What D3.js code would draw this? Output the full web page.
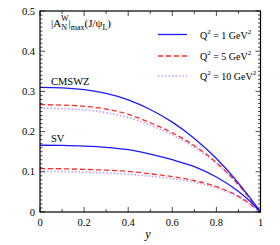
<!DOCTYPE html>
<html><head><meta charset="utf-8">
<script src="https://cdn.jsdelivr.net/npm/d3@7"></script>
<style>body{margin:0;background:#fff}svg{display:block}text{font-family:"Liberation Serif","DejaVu Serif",serif;fill:#000}</style>
</head><body><svg id="c" width="280" height="245"></svg>
<script>
const xs = [0, 0.1, 0.2, 0.3, 0.4, 0.5, 0.6, 0.7, 0.8, 0.9, 0.95, 1];
const cmswzQ1  = [0.310, 0.309, 0.3045, 0.295, 0.279, 0.255, 0.2235, 0.183, 0.133, 0.072, 0.037, 0];
const cmswzQ5  = [0.267, 0.266, 0.263, 0.256, 0.243, 0.222, 0.197, 0.165, 0.123, 0.068, 0.035, 0];
const cmswzQ10 = [0.258, 0.257, 0.254, 0.247, 0.235, 0.216, 0.192, 0.161, 0.121, 0.067, 0.034, 0];
const svQ1  = [0.166, 0.1655, 0.164, 0.161, 0.155, 0.144, 0.130, 0.113, 0.087, 0.051, 0.028, 0];
const svQ5  = [0.108, 0.1075, 0.106, 0.104, 0.101, 0.095, 0.088, 0.078, 0.063, 0.039, 0.021, 0];
const svQ10 = [0.101, 0.1005, 0.099, 0.097, 0.094, 0.089, 0.083, 0.074, 0.060, 0.037, 0.020, 0];
const xTicks = [0, 0.2, 0.4, 0.6, 0.8, 1];
const yTicks = [0, 0.1, 0.2, 0.3, 0.4, 0.5];
const legendLabels = ["1", "5", "10"];

const svg = d3.select("#c");
const L = 40, R = 260.5, T = 11, B = 212;
const x = d3.scaleLinear().domain([0, 1]).range([L, R]);
const y = d3.scaleLinear().domain([0, 0.5]).range([B, T]);

const styles = [
  {color: "#1a1aff", dash: null, w: 1.3},
  {color: "#ff2a2a", dash: "5,3", w: 1.3},
  {color: "#c39bff", dash: "1.5,2", w: 1.6}
];
const series = [[cmswzQ1, 0], [cmswzQ5, 1], [cmswzQ10, 2], [svQ1, 0], [svQ5, 1], [svQ10, 2]];
const line = d3.line().x((d, i) => x(xs[i])).y(d => y(d)).curve(d3.curveMonotoneX);
[2, 1, 0].forEach(si => {
  series.filter(s => s[1] === si).forEach(s => {
    svg.append("path").attr("d", line(s[0])).attr("fill", "none")
      .attr("stroke", styles[si].color).attr("stroke-width", styles[si].w)
      .attr("stroke-dasharray", styles[si].dash);
  });
});

svg.append("rect").attr("x", L).attr("y", T).attr("width", R - L).attr("height", B - T)
  .attr("fill", "none").attr("stroke", "#000").attr("stroke-width", 1.2);

const g = svg.append("g").attr("stroke", "#000").attr("stroke-width", 0.7);
d3.range(0, 51).forEach(k => {
  const v = k / 100, major = k % 10 === 0, len = major ? 5 : 2.5;
  g.append("line").attr("x1", L).attr("x2", L + len).attr("y1", y(v)).attr("y2", y(v));
  g.append("line").attr("x1", R).attr("x2", R - len).attr("y1", y(v)).attr("y2", y(v));
});
d3.range(0, 11).forEach(k => {
  const v = k / 10, major = k % 2 === 0, len = major ? 5 : 3;
  g.append("line").attr("x1", x(v)).attr("x2", x(v)).attr("y1", B).attr("y2", B - len);
  g.append("line").attr("x1", x(v)).attr("x2", x(v)).attr("y1", T).attr("y2", T + len);
});

const fmt = v => v === 0 ? "0" : v === 1 ? "1" : String(v);
yTicks.forEach(v => svg.append("text").attr("x", 35).attr("y", y(v) + 3.5)
  .attr("text-anchor", "end").attr("font-size", 10.5).text(fmt(v)));
xTicks.forEach(v => svg.append("text").attr("x", x(v)).attr("y", 226)
  .attr("text-anchor", "middle").attr("font-size", 10.5).text(fmt(v)));
svg.append("text").attr("x", 148).attr("y", 238).attr("text-anchor", "middle")
  .attr("font-size", 12).attr("font-style", "italic").text("y");

const t = svg.append("text").attr("x", 51).attr("y", 27).attr("font-size", 11);
t.append("tspan").text("|A");
t.append("tspan").attr("font-size", 8).attr("dy", 3).text("N");
t.append("tspan").attr("font-size", 8).attr("dx", -6).attr("dy", -9).text("W");
t.append("tspan").attr("dy", 6).text("|");
t.append("tspan").attr("font-size", 8).attr("dy", 3).text("max");
t.append("tspan").attr("dy", -3).text("(J/ψ");
t.append("tspan").attr("font-size", 8).attr("dy", 3).text("L");
t.append("tspan").attr("dy", -3).text(")");

svg.append("text").attr("x", 51).attr("y", 85).attr("font-size", 10.5).text("CMSWZ");
svg.append("text").attr("x", 51).attr("y", 142).attr("font-size", 10.5).text("SV");

legendLabels.forEach((lab, i) => {
  const ly = [34.5, 56, 76][i];
  svg.append("line").attr("x1", 158).attr("x2", 187).attr("y1", ly).attr("y2", ly)
    .attr("stroke", styles[i].color).attr("stroke-width", styles[i].w)
    .attr("stroke-dasharray", styles[i].dash);
  const tt = svg.append("text").attr("x", 200).attr("y", ly + 4).attr("font-size", 10);
  tt.append("tspan").text("Q");
  tt.append("tspan").attr("font-size", 7).attr("dy", -5).text("2");
  tt.append("tspan").attr("dy", 5).text(" = " + lab + " GeV");
  tt.append("tspan").attr("font-size", 7).attr("dy", -5).text("2");
});
</script></body></html>
